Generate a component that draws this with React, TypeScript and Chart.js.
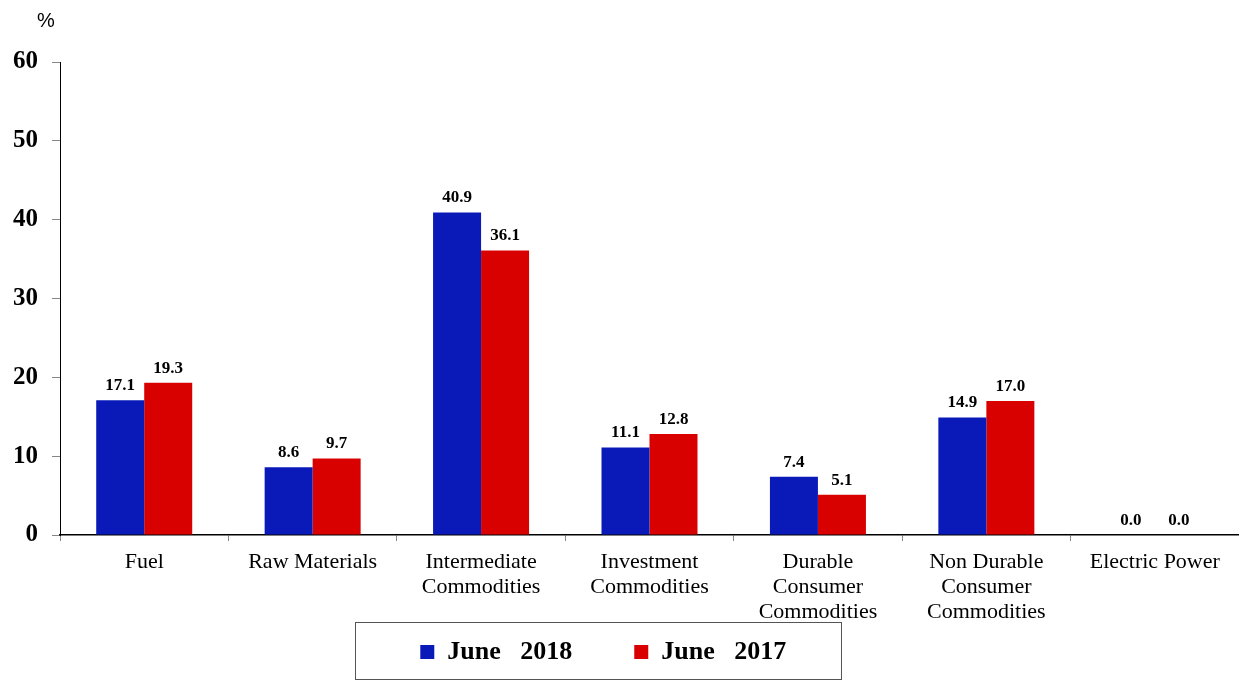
import React, { useEffect, useRef } from "react";
import { Chart, registerables } from "chart.js";

Chart.register(...registerables);

const categories: (string | string[])[] = [
  "Fuel",
  "Raw Materials",
  ["Intermediate", "Commodities"],
  ["Investment", "Commodities"],
  ["Durable", "Consumer", "Commodities"],
  ["Non Durable", "Consumer", "Commodities"],
  "Electric Power",
];
const june2018 = [17.1, 8.6, 40.9, 11.1, 7.4, 14.9, 0.0];
const june2017 = [19.3, 9.7, 36.1, 12.8, 5.1, 17.0, 0.0];
const yTicks = [0, 10, 20, 30, 40, 50, 60];
const seriesNames = ["June   2018", "June   2017"];

const SERIF = "'Liberation Serif', 'Times New Roman', serif";

const valueLabels = {
  id: "valueLabels",
  afterDatasetsDraw(chart: any) {
    const ctx = chart.ctx;
    ctx.save();
    ctx.font = `bold 17px ${SERIF}`;
    ctx.fillStyle = "#000";
    ctx.textAlign = "center";
    ctx.textBaseline = "bottom";
    chart.data.datasets.forEach((ds: any, i: number) => {
      const meta = chart.getDatasetMeta(i);
      meta.data.forEach((bar: any, j: number) => {
        ctx.fillText(Number(ds.data[j]).toFixed(1), bar.x, bar.y - 6);
      });
    });
    ctx.restore();
  },
};

const extras = {
  id: "extras",
  afterDraw(chart: any) {
    const ctx = chart.ctx;
    ctx.save();
    ctx.font = `20px 'Liberation Sans', Arial, sans-serif`;
    ctx.fillStyle = "#000";
    ctx.textAlign = "center";
    ctx.textBaseline = "middle";
    ctx.fillText("%", 46, 21);
    ctx.strokeStyle = "#555";
    ctx.lineWidth = 1;
    ctx.strokeRect(355.5, 622.5, 486, 57);
    ctx.restore();
  },
};

export default function App() {
  const ref = useRef<HTMLCanvasElement | null>(null);
  useEffect(() => {
    if (!ref.current) return;
    const chart = new Chart(ref.current, {
      type: "bar",
      data: {
        labels: categories,
        datasets: [
          {
            label: seriesNames[0],
            data: june2018,
            backgroundColor: "#0A1AB8",
            categoryPercentage: 0.57,
            barPercentage: 1,
          },
          {
            label: seriesNames[1],
            data: june2017,
            backgroundColor: "#D90000",
            categoryPercentage: 0.57,
            barPercentage: 1,
          },
        ],
      },
      options: {
        animation: false,
        responsive: true,
        maintainAspectRatio: false,
        layout: { padding: { top: 62, right: 0, left: 0, bottom: 5 } },
        plugins: {
          legend: {
            position: "bottom",
            labels: {
              font: { family: SERIF, size: 26, weight: "bold" },
              color: "#000",
              boxWidth: 14,
              boxHeight: 14,
              padding: 10,
              generateLabels(chart: any) {
                const items = Chart.defaults.plugins.legend.labels.generateLabels(chart);
                const trail = ["        ", "     "];
                items.forEach((it: any, i: number) => {
                  it.text = it.text + trail[i];
                  it.lineWidth = 0;
                });
                return items;
              },
            },
          },
          tooltip: { enabled: false },
        },
        scales: {
          x: {
            grid: {
              offset: true,
              drawOnChartArea: false,
              tickLength: 6,
              color: "#888",
            },
            border: { color: "#000", width: 1.5 },
            ticks: {
              font: { family: SERIF, size: 22, lineHeight: 1.14 },
              color: "#000",
              maxRotation: 0,
              autoSkip: false,
              padding: 9,
            },
            afterFit(scale: any) {
              scale.height = 94;
            },
          },
          y: {
            min: 0,
            max: 60,
            afterBuildTicks(scale: any) {
              scale.ticks = yTicks.map((v) => ({ value: v }));
            },
            grid: {
              drawOnChartArea: false,
              tickLength: 8,
              color: "#888",
            },
            border: { color: "#000", width: 1 },
            ticks: {
              font: { family: SERIF, size: 25, weight: "bold" },
              color: "#000",
              padding: 14,
            },
            afterFit(scale: any) {
              scale.width = 60;
            },
          },
        },
      },
      plugins: [valueLabels, extras],
    });
    return () => chart.destroy();
  }, []);
  return (
    <div style={{ position: "fixed", left: 0, top: 0, width: 1239, height: 680, background: "#fff" }}>
      <canvas ref={ref} />
    </div>
  );
}
